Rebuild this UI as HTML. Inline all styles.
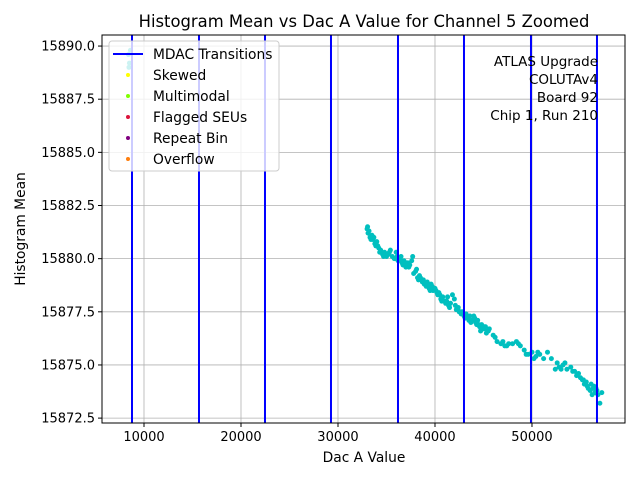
<!DOCTYPE html>
<html><head><meta charset="utf-8"><style>
body{margin:0;background:#fff;font-family:"Liberation Sans","DejaVu Sans",sans-serif}
svg text{font-family:"DejaVu Sans","Liberation Sans",sans-serif}
</style></head><body>
<svg id="c" width="640" height="480" viewBox="0 0 640 480"></svg>
<script>
const xTicks=[10000,20000,30000,40000,50000];
const yTicks=[15872.5,15875.0,15877.5,15880.0,15882.5,15885.0,15887.5,15890.0];
const mdac=[8763,15670,22474,29278,36186,42990,49897,56701];
const dacVals=[8400,8500,8600,8450,33000,33100,33300,33500,33600,33800,34000,34200,34400,34600,34800,35000,35200,35400,35600,35800,36000,36200,36400,36600,36800,37000,37200,37400,37600,37800,38000,38200,38400,38600,38800,39000,39200,39400,39600,39800,40000,40200,40400,40600,40800,41000,41200,41400,41600,41800,42000,42200,42400,42600,42800,43000,43200,43400,43600,43800,44000,44200,44400,44600,44800,45000,45200,45400,45600,46000,46400,46800,47200,47600,48000,48400,48800,49200,49600,50000,50400,50800,51200,51600,52000,52400,52800,53200,53600,54000,54400,54800,55000,55200,55400,55600,55800,56000,56200,56400,56600,56800,57000,57200,
33050,33200,33400,33700,33900,34100,34300,34700,35100,35300,35900,36100,36500,36700,37100,37300,37700,38100,38300,38500,38700,38900,39100,39300,39500,39700,40100,40300,40500,40700,41100,41300,41500,42100,42300,42500,42700,43100,43300,43500,43700,44100,44300,44500,44700,45100,45300,45500,46200,47000,47400,48600,49400,50200,50600,52600,53000,53400,54200,54600,55300,55700,56100,56300,56500,56700];
const meanVals=[15889.6,15889.2,15889.8,15889.0,15881.4,15881.2,15881.0,15881.1,15880.9,15880.7,15880.8,15880.5,15880.4,15880.2,15880.3,15880.1,15880.2,15880.4,15880.1,15880.0,15880.3,15879.9,15880.0,15879.8,15879.9,15879.6,15879.8,15879.7,15879.9,15879.3,15879.4,15879.1,15879.2,15879.0,15879.0,15878.8,15878.9,15878.6,15878.8,15878.5,15878.6,15878.4,15878.4,15878.1,15878.2,15878.0,15878.0,15877.8,15877.9,15878.3,15878.1,15877.6,15877.7,15877.5,15877.5,15877.3,15877.4,15877.2,15877.3,15877.1,15877.3,15877.0,15877.1,15876.8,15876.9,15876.7,15876.8,15876.6,15876.7,15876.4,15876.1,15876.0,15875.9,15876.0,15876.0,15876.1,15875.9,15875.7,15875.5,15875.6,15875.4,15875.5,15875.3,15875.6,15875.3,15874.8,15874.9,15875.0,15874.8,15874.9,15874.7,15874.6,15874.4,15874.3,15874.1,15874.2,15873.9,15873.8,15873.6,15874.0,15873.9,15873.6,15873.2,15873.7,
15881.5,15881.3,15880.9,15881.0,15880.6,15880.6,15880.3,15880.1,15880.2,15880.3,15880.0,15880.1,15880.1,15879.7,15879.8,15879.6,15880.1,15879.5,15879.0,15879.1,15878.9,15878.8,15878.7,15878.7,15878.5,15878.7,15878.5,15878.3,15878.3,15878.0,15877.9,15878.2,15877.7,15877.8,15877.6,15877.5,15877.4,15877.2,15877.3,15877.1,15877.0,15877.2,15876.9,15876.9,15876.6,15876.8,15876.5,15876.6,15876.3,15876.1,15875.9,15876.0,15875.5,15875.3,15875.6,15875.1,15874.8,15875.1,15874.7,15874.5,15874.3,15874.0,15874.1,15873.9,15873.7,15873.8];
const legendLabels=["MDAC Transitions","Skewed","Multimodal","Flagged SEUs","Repeat Bin","Overflow"];
const legendColors=["#0000ff","#ffff00","#80ff00","#dc143c","#800080","#ff7f0e"];
const L=102,R=625,T=35,B=423,xmin=5670,xmax=59590,ymin=15872.27,ymax=15890.52;
const sx=v=>L+(v-xmin)/(xmax-xmin)*(R-L);
const sy=v=>B-(v-ymin)/(ymax-ymin)*(B-T);
const svg=document.getElementById('c');const NS='http://www.w3.org/2000/svg';
function el(t,a,p){const e=document.createElementNS(NS,t);for(const k in a)e.setAttribute(k,a[k]);(p||svg).appendChild(e);return e;}
xTicks.forEach(v=>{const x=sx(v);
const g=el('line',{x1:x,x2:x,y1:T,y2:B,stroke:'#b0b0b0','stroke-width':0.8});

el('line',{x1:x,x2:x,y1:B,y2:B+4,stroke:'#000'});
const t=el('text',{x:x,y:B+18,'font-size':13,'text-anchor':'middle'});t.textContent=v;
});
yTicks.forEach(v=>{const y=sy(v);
const g=el('line',{x1:L,x2:R,y1:y,y2:y,stroke:'#b0b0b0','stroke-width':0.8});

el('line',{x1:L-4,x2:L,y1:y,y2:y,stroke:'#000'});
const t=el('text',{x:L-7,y:y+4.5,'font-size':13,'text-anchor':'end'});t.textContent=v.toFixed(1);
});
dacVals.forEach((d,i)=>{const c=el('circle',{cx:sx(d),cy:sy(meanVals[i]),r:2.5,fill:'#00bfbf'});
});
mdac.forEach(v=>{const l=el('line',{x1:sx(v),x2:sx(v),y1:T,y2:B,stroke:'#0000ff','stroke-width':2});
});
const fr=el('rect',{x:L,y:T,width:R-L,height:B-T,fill:'none',stroke:'#000','stroke-width':1});

const lg=el('g',{});
el('rect',{x:109,y:41,width:170,height:130,rx:3,fill:'#fff','fill-opacity':0.8,stroke:'#ccc'},lg);
legendLabels.forEach((s,i)=>{const y=54+i*21;
if(i==0){el('line',{x1:113,x2:143,y1:y,y2:y,stroke:legendColors[0],'stroke-width':2},lg);}
else{el('circle',{cx:128,cy:y,r:2,fill:legendColors[i]},lg);}
const t=el('text',{x:153,y:y+5,'font-size':13.8},lg);t.textContent=s;
});
const ann=["ATLAS Upgrade","COLUTAv4","Board 92","Chip 1, Run 210"];
ann.forEach((s,i)=>{const t=el('text',{x:598,y:66+i*18,'font-size':13.5,'text-anchor':'end'});t.textContent=s;
});
let t=el('text',{x:364,y:27,'font-size':16.4,'text-anchor':'middle'});t.textContent='Histogram Mean vs Dac A Value for Channel 5 Zoomed';

t=el('text',{x:364,y:462,'font-size':13.8,'text-anchor':'middle'});t.textContent='Dac A Value';

t=el('text',{x:0,y:0,'font-size':13.8,'text-anchor':'middle',transform:'translate(25,229) rotate(-90)'});t.textContent='Histogram Mean';

</script>
</body></html>
